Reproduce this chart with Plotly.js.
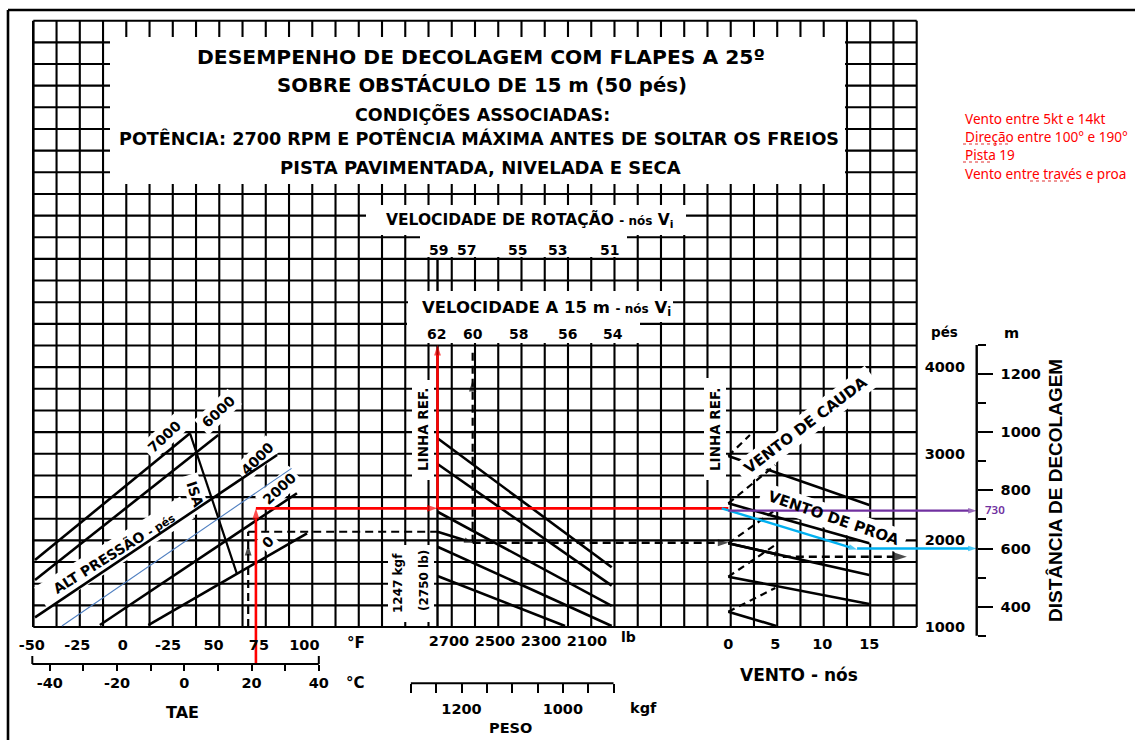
<!DOCTYPE html>
<html><head><meta charset="utf-8">
<script src="https://cdn.plot.ly/plotly-3.0.1.min.js"></script>
<style>html,body{margin:0;padding:0;background:#fff;}#chart{width:1135px;height:740px;}</style>
</head><body><div id="chart"></div>
<script>
// ======================= DATA =======================
// Left panel: pressure-altitude lines, temperature (°C) -> reference distance (ft)
const altitudeLabels = ['7000', '6000', '4000', '2000', '0'];
const altitudeTempC  = [[-44.4, 1.7], [-44.4, 10.1], [-44.4, 27.6], [-25.1, 33.5], [-10.7, 36.5]];
const altitudeDistFt = [[1774, 3237], [1543, 3217], [1112, 2986], [1023, 2544], [1023, 2082]];
const isaTempC  = [1.7, 15.6];
const isaDistFt = [3237, 1620];
const interpTempC  = [-36.4, 31.9];      // thin blue hand-drawn interpolation line
const interpDistFt = [1012, 2832];

// Middle panel: weight guide lines, weight (lb) -> distance (ft)
const weightLineLb = [[2750, 1992], [2750, 1992], [2750, 1992], [2750, 1992], [2750, 2195]];
const weightLineFt = [[3179, 1689], [2882, 1477], [2331, 1243], [1927, 1012], [1589, 1012]];
const refWeightLb = 2750;

// Right panel: wind guide lines, wind (kt) -> distance (ft)
const headwindKt = [[0, 15], [0, 15], [0, 15], [0, 15], [0, 5.1]];
const headwindFt = [[2975, 2409], [2428, 1966], [1966, 1600], [1581, 1266], [1177, 1012]];
const tailwindKt = [[0, 2.3], [0, 5], [0, 5], [0, 5], [0, 5]];
const tailwindFt = [[2975, 3217], [2428, 2870], [1966, 2351], [1581, 1947], [1177, 1450]];

// Tick labels
const tempFTicks = [-50, -25, 0, 25, 50, 75, 100];
const tempFText  = ['-50', '-25', '0', '-25', '50', '75', '100'];
const tempCTicks = [-40, -20, 0, 20, 40];
const tempCMinor = [-30, -10, 10, 30];
const weightLbTicks = [2700, 2500, 2300, 2100];
const weightKgfTicks = [1200, 1000];
const weightKgfMinor = [1300, 1250, 1150, 1100, 1050, 950, 900];
const windTicks = [0, 5, 10, 15];
const distFtTicks = [1000, 2000, 3000, 4000];
const distMTicks = [400, 600, 800, 1000, 1200];
const distMMinor = [300, 500, 700, 900, 1100, 1300];
const rotationSpeeds = ['59', '57', '55', '53', '51'];
const obstacleSpeeds = ['62', '60', '58', '56', '54'];

// Worked example printed on the chart (black dashed)
const exTempC = 19.0, exAltFt = 2100, exArrowFt = 1947;
const exWeightLb = 2597, exWeightFt = 1973, exSpeedArrowFt = 3852, exSpeedFt = 4198;
const exWindKt = 5.8, exWindFt = 1812, exWindEndKt = 19.0;

// Hand-drawn reading (red / purple / cyan)
const readTempC = 21.3, readRefFt = 2370, readSpeedFt = 4256;
const readHeadwindKt = 13.7, readHeadwindFt = 1895;
const readDistM = [730, 600];

// ======================= LAYOUT HELPERS =======================
const W = 1135, H = 740;
const X = px => px / W, Y = py => 1 - py / H;
const FONT = 'DejaVu Sans, sans-serif';
const FONT_N = 'Liberation Sans, Arial, sans-serif';
// axis calibration: pixel = p0 + (value - v0) * k
const CAL = {
  c:   {p0: 184.3, v0: 0,    k: 3.3625},
  f:   {p0: 168.1, v0: 25,   k: 1.8166},
  lb:  {p0: 449,   v0: 2700, k: -0.2298},
  kgf: {p0: 449,   v0: 2700 / 2.20462, k: -0.2298 * 2.20462},
  kt:  {p0: 728.3, v0: 0,    k: 9.4},
  ft:  {p0: 627,   v0: 1000, k: -0.0866},
  m:   {p0: 606.7, v0: 400,  k: -0.2909}
};
const toPx = (a, v) => CAL[a].p0 + (v - CAL[a].v0) * CAL[a].k;
const toVal = (a, p) => CAL[a].v0 + (p - CAL[a].p0) / CAL[a].k;
const xRange = a => [toVal(a, 0), toVal(a, W)];
const yRange = a => [toVal(a, H), toVal(a, 0)];

const GRID = {x0: 33.3, x1: 916.7, nx: 38, y0: 20.7, y1: 627, ny: 28};
const C_AXIS_PY = 664, KGF_AXIS_PY = 683.3, M_AXIS_PX = 976.7;

const shapes = [];
const seg = (x0, y0, x1, y1, w, c, dash) => shapes.push({type: 'line', xref: 'paper', yref: 'paper',
  x0: X(x0), y0: Y(y0), x1: X(x1), y1: Y(y1), layer: 'below', line: {color: c || '#000', width: w || 2, dash: dash || 'solid'}});
const box = (x0, y0, x1, y1) => shapes.push({type: 'rect', xref: 'paper', yref: 'paper',
  x0: X(x0), y0: Y(y0), x1: X(x1), y1: Y(y1), layer: 'below', fillcolor: '#fff', line: {width: 0}});
const rbox = (cx, cy, w, h, ang) => {
  const t = ang * Math.PI / 180, c = Math.cos(t), s = Math.sin(t);
  const pts = [[-w/2, -h/2], [w/2, -h/2], [w/2, h/2], [-w/2, h/2]].map(([u, v]) =>
    [X(cx + u * c - v * s), Y(cy + u * s + v * c)]);
  shapes.push({type: 'path', xref: 'paper', yref: 'paper', layer: 'below', fillcolor: '#fff', line: {width: 0},
    path: 'M' + pts.map(p => p[0].toFixed(5) + ',' + p[1].toFixed(5)).join('L') + 'Z'});
};

// grid
const dx = (GRID.x1 - GRID.x0) / GRID.nx, dy = (GRID.y1 - GRID.y0) / GRID.ny;
for (let i = 0; i <= GRID.nx; i++) seg(GRID.x0 + i * dx, GRID.y0, GRID.x0 + i * dx, GRID.y1, i === 0 ? 2.6 : 2.1);
for (let j = 0; j <= GRID.ny; j++) seg(GRID.x0, GRID.y0 + j * dy, GRID.x1, GRID.y0 + j * dy, 2.1);
// white label boxes over the grid
box(110, 37, 845, 184);
box(366, 205, 686, 235);
box(420, 235, 627, 257);
box(408, 291, 673, 322);
box(407, 322, 640, 343);
box(412, 380, 434, 480);
box(388, 545, 434, 622);
box(704, 378, 726, 480);
rbox(114, 553, 172, 26, -32);
rbox(164, 437, 46, 21, -43);
rbox(218, 412, 46, 21, -43);
rbox(257, 459, 46, 21, -45);
rbox(279, 489, 46, 21, -43);
rbox(268, 542, 16, 18, -45);
rbox(195, 494, 40, 18, 72);
rbox(806, 425, 165, 24, -37);
rbox(833, 518, 152, 24, 19);
// frame
seg(8, 10, W, 10, 2.6); seg(8, 10, 8, H, 2.6);
// spell-check squiggles under the red notes
seg(963, 144, 1011, 144, 1, '#e03030', 'dot');
seg(963, 162, 990, 162, 1, '#e03030', 'dot');
seg(1030, 181, 1069, 181, 1, '#e03030', 'dot');
// separate scale lines
shapes.push({type: 'line', xref: 'x', yref: 'paper', x0: toVal('c', 32.3), x1: 40, y0: Y(C_AXIS_PY), y1: Y(C_AXIS_PY), line: {color: '#000', width: 2}});
shapes.push({type: 'line', xref: 'x', yref: 'paper', x0: toVal('c', 32.3), x1: toVal('c', 32.3), y0: Y(C_AXIS_PY), y1: Y(C_AXIS_PY - 8), line: {color: '#000', width: 2}});
shapes.push({type: 'line', xref: 'x', yref: 'paper', x0: 40, x1: 40, y0: Y(C_AXIS_PY), y1: Y(C_AXIS_PY - 8), line: {color: '#000', width: 2}});
shapes.push({type: 'line', xref: 'x4', yref: 'paper', x0: 1300, x1: 900, y0: Y(KGF_AXIS_PY), y1: Y(KGF_AXIS_PY), line: {color: '#000', width: 2}});
shapes.push({type: 'line', xref: 'paper', yref: 'y2', x0: X(M_AXIS_PX), x1: X(M_AXIS_PX), y0: 300, y1: 1300, line: {color: '#000', width: 2.4}});

// ======================= TRACES =======================
const traces = [];
function line(xa, ya, xs, ys, color, width, opts) {
  opts = opts || {};
  const t = {type: 'scatter', mode: 'lines', x: xs, y: ys, xaxis: xa, yaxis: ya, hoverinfo: 'skip', showlegend: false,
    line: {color: color, width: width, dash: opts.dash || 'solid'}};
  if (opts.arrows) {
    t.mode = 'lines+markers';
    t.marker = {symbol: 'arrow', size: opts.arrows, angleref: 'previous', color: color, line: {width: 0}};
  }
  traces.push(t);
}
// empty traces so that every scale is drawn
['x2', 'x4'].forEach(a => traces.push({type: 'scatter', x: [], y: [], xaxis: a, yaxis: 'y', showlegend: false}));

altitudeTempC.forEach((xs, i) => line('x', 'y', xs, altitudeDistFt[i], '#000', 2.6));
line('x', 'y', isaTempC, isaDistFt, '#000', 2.2);
line('x', 'y', interpTempC, interpDistFt, '#4f7fc0', 1.1);
weightLineLb.forEach((xs, i) => line('x3', 'y', xs, weightLineFt[i], '#000', 2.6));
// reference line of the weight panel (interrupted by the speed box)
line('x3', 'y', [refWeightLb, refWeightLb], [1000, toVal('ft', 345)], '#000', 2.4);
line('x3', 'y', [refWeightLb, refWeightLb], [toVal('ft', 291), toVal('ft', 258)], '#000', 2.4);
headwindKt.forEach((xs, i) => line('x5', 'y', xs, headwindFt[i], '#000', 2.6));
tailwindKt.forEach((xs, i) => line('x5', 'y', xs, tailwindFt[i], '#000', 2.2, {dash: '7px,5px'}));

// worked example (black dashed)
const cAtRefLine = toVal('c', toPx('lb', refWeightLb));
const lbAtWindRef = toVal('lb', toPx('kt', 0));
line('x', 'y', [exTempC, exTempC, exTempC], [1000, exArrowFt, exAltFt], '#000', 2.2, {dash: '8px,5px', arrows: [0, 11, 0]});
line('x', 'y', [exTempC, cAtRefLine], [exAltFt, exAltFt], '#000', 2.2, {dash: '8px,5px'});
line('x3', 'y', [refWeightLb, exWeightLb], [exAltFt, exWeightFt], '#000', 2.6, {arrows: [0, 9]});
line('x3', 'y', [exWeightLb, exWeightLb, exWeightLb], [exWeightFt, exSpeedArrowFt, exSpeedFt], '#000', 2.2, {dash: '8px,5px', arrows: [0, 12, 0]});
line('x3', 'y', [exWeightLb, lbAtWindRef], [exWeightFt, exWeightFt], '#000', 2.4, {dash: '8px,5px', arrows: [0, 11]});
line('x5', 'y', [0, exWindKt], [headwindFt[2][0], exWindFt + 12], '#000', 2.6, {arrows: [0, 9]});
line('x5', 'y', [exWindKt, exWindEndKt], [exWindFt, exWindFt], '#000', 2.4, {dash: '8px,5px', arrows: [0, 15]});

// hand-drawn reading
const cAxisFt = toVal('ft', C_AXIS_PY);
const ktAtMAxis = toVal('kt', M_AXIS_PX);
line('x', 'y', [readTempC, readTempC], [cAxisFt, readRefFt], '#ff0000', 2.6, {arrows: [0, 11]});
line('x', 'y', [readTempC, cAtRefLine], [readRefFt, readRefFt], '#ff0000', 2.6, {arrows: [0, 11]});
line('x3', 'y', [refWeightLb, lbAtWindRef], [readRefFt, readRefFt], '#ff0000', 2.6);
line('x3', 'y', [refWeightLb, refWeightLb], [readRefFt, readSpeedFt], '#ff0000', 2.6, {arrows: [0, 11]});
line('x5', 'y2', [0, ktAtMAxis], [readDistM[0], readDistM[0]], '#7030a0', 2.2, {arrows: [0, 9]});
line('x5', 'y', [-0.7, readHeadwindKt], [readRefFt, readHeadwindFt], '#00b0f0', 2.4, {arrows: [0, 9]});
line('x5', 'y2', [readHeadwindKt, ktAtMAxis], [readDistM[1], readDistM[1]], '#00b0f0', 2.4, {arrows: [0, 9]});

// ======================= TEXT =======================
const ann = [];
function txt(text, px, py, size, o) {
  o = o || {};
  const a = {text: text, x: X(px), y: Y(py), xref: 'paper', yref: 'paper', showarrow: false,
    xanchor: o.xa || 'center', yanchor: o.ya || 'middle', textangle: o.angle || 0,
    font: {family: o.family || FONT, size: size, color: o.color || '#000', weight: o.weight || 700}};
  if (o.bg) { a.bgcolor = o.bg; a.borderpad = o.pad || 2; }
  ann.push(a);
}
txt('DESEMPENHO DE DECOLAGEM COM FLAPES A 25º', 481, 57, 20.3);
txt('SOBRE OBSTÁCULO DE 15 m (50 pés)', 482, 85, 19.7);
txt('CONDIÇÕES ASSOCIADAS:', 482, 114, 17.5);
txt('POTÊNCIA: 2700 RPM E POTÊNCIA MÁXIMA ANTES DE SOLTAR OS FREIOS', 479, 139, 17.6);
txt('PISTA PAVIMENTADA, NIVELADA E SECA', 480, 167, 18);
txt('VELOCIDADE DE ROTAÇÃO <span style="font-size:12px">- nós</span> V<sub>i</sub>', 529, 221, 15.5);
txt('VELOCIDADE A 15 m <span style="font-size:12px">- nós</span> V<sub>i</sub>', 546, 308, 16.5);
const rotPx = [438.7, 466.7, 517.5, 557.5, 609];
rotationSpeeds.forEach((s, i) => txt(s, rotPx[i], 250, 14));
const obsPx = [436, 472.5, 518, 567.5, 613];
obstacleSpeeds.forEach((s, i) => txt(s, obsPx[i], 334, 14));
txt('LINHA REF.', 423, 430, 13.5, {angle: -90});
txt('LINHA REF.', 715, 430, 13.5, {angle: -90});
txt('1247 kgf', 398, 583, 12, {angle: -90});
txt('(2750 lb)', 424, 581, 12, {angle: -90});
txt('ALT PRESSÃO <span style="font-size:11px">- pés</span>', 114, 553, 14, {angle: -32});
const altLblPos = [[164, 437, -43], [218, 412, -43], [257, 459, -45], [279, 489, -43], [268, 542, -45]];
altitudeLabels.forEach((s, i) => txt(s, altLblPos[i][0], altLblPos[i][1], 14, {angle: altLblPos[i][2]}));
txt('ISA', 195, 494, 14, {angle: 72});
txt('VENTO DE CAUDA', 806, 425, 15, {angle: -37, bg: '#fff', pad: 2});
txt('VENTO DE PROA', 833, 518, 15, {angle: 19});
txt('°F', 356, 643, 15);
txt('°C', 356, 683, 15);
txt('TAE', 182, 712, 16);
txt('lb', 628, 637, 14);
txt('kgf', 643, 708, 14.5);
txt('PESO', 510, 728, 14.5);
txt('VENTO - nós', 799, 675, 17);
txt('pés', 944, 332, 13.5);
txt('m', 1011, 333, 14.5);
txt('DISTÂNCIA DE DECOLAGEM', 1055, 491, 19, {angle: -90, family: FONT_N});
txt('730', 983, 510, 11.5, {xa: 'left', color: '#7030a0', family: 'Noto Sans, sans-serif', weight: 600});
const notes = ['Vento entre 5kt e 14kt', 'Direção entre 100° e 190°', 'Pista 19', 'Vento entre través e proa'];
notes.forEach((s, i) => txt(s, 963, 118 + i * 18.4, 13.6, {xa: 'left', color: '#ff0000', family: 'Noto Sans, sans-serif', weight: 400}));

// ======================= AXES =======================
const tickFont = {family: FONT, size: 14.5, color: '#000', weight: 700};
const ax = o => Object.assign({showgrid: false, zeroline: false, showline: false, fixedrange: true, automargin: false,
  tickmode: 'array', tickfont: tickFont, ticks: '', tickcolor: '#000', tickwidth: 2}, o);
const minorTicks = (vals, len) => ({tickmode: 'array', tickvals: vals, ticks: 'outside', ticklen: len, tickwidth: 2, tickcolor: '#000', showgrid: false});
const layout = {
  width: W, height: H, margin: {l: 0, r: 0, t: 0, b: 0},
  paper_bgcolor: '#fff', plot_bgcolor: 'rgba(0,0,0,0)', showlegend: false, hovermode: false,
  xaxis:  ax({range: xRange('c'), domain: [0, 1], anchor: 'free', position: Y(C_AXIS_PY), side: 'bottom',
               tickvals: tempCTicks, ticktext: tempCTicks.map(String), ticks: 'outside', ticklen: 6,
               minor: minorTicks(tempCMinor, 6), ticklabelstandoff: 0}),
  xaxis2: ax({range: xRange('f'), overlaying: 'x', anchor: 'free', position: Y(GRID.y1), side: 'bottom',
               tickvals: tempFTicks, ticktext: tempFText, ticklabelstandoff: 7}),
  xaxis3: ax({range: xRange('lb'), overlaying: 'x', anchor: 'free', position: Y(GRID.y1), side: 'bottom',
               tickvals: weightLbTicks, ticktext: weightLbTicks.map(String), ticklabelstandoff: 3}),
  xaxis4: ax({range: xRange('kgf'), overlaying: 'x', anchor: 'free', position: Y(KGF_AXIS_PY), side: 'bottom',
               tickvals: weightKgfTicks, ticktext: weightKgfTicks.map(String), ticks: 'outside', ticklen: 9,
               minor: minorTicks(weightKgfMinor, 9), ticklabelstandoff: 3}),
  xaxis5: ax({range: xRange('kt'), overlaying: 'x', anchor: 'free', position: Y(GRID.y1), side: 'bottom',
               tickvals: windTicks, ticktext: windTicks.map(String), ticklabelstandoff: 6}),
  yaxis:  ax({range: yRange('ft'), domain: [0, 1], anchor: 'free', position: X(GRID.x1), side: 'right',
               tickvals: distFtTicks, ticktext: distFtTicks.map(String), ticklabelstandoff: 7}),
  yaxis2: ax({range: yRange('m'), overlaying: 'y', anchor: 'free', position: X(M_AXIS_PX), side: 'right',
               tickvals: distMTicks, ticktext: distMTicks.map(String), ticks: 'outside', ticklen: 15,
               minor: minorTicks(distMMinor, 8), ticklabelstandoff: 5}),
  shapes: shapes, annotations: ann
};
Plotly.newPlot('chart', traces, layout, {displayModeBar: false, staticPlot: true});
</script></body></html>
